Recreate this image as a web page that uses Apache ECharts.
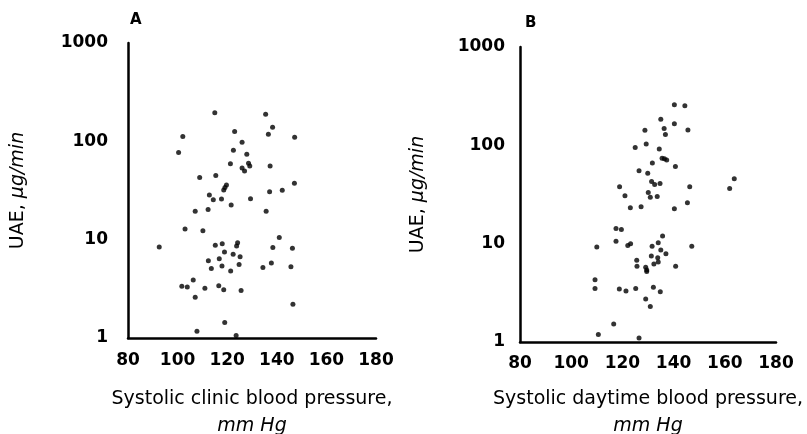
<html>
	<head>
		<meta http-equiv="content-type" content="text/html; charset=utf-8">
		<script src="https://cdn.jsdelivr.net/npm/echarts@6/dist/echarts.min.js"></script>
		<style>
			html, body { margin: 0; padding: 0; background: #ffffff; }
			#chart { width: 807px; height: 434px; }
		</style>
		<title>UAE vs systolic blood pressure</title>
	</head>
	<body>
		<div id="chart"></div>
		<script type="text/javascript">
///////////////////////////////////////////////////////////////////////////////
// data

// panel A: systolic clinic blood pressure (mm Hg) and UAE (ug/min)
var clinic_sbp = [
	115, 135.5, 138.3, 102.1, 123, 136.6, 147.2, 100.4, 126, 122.5,
	127.9, 121.3, 128.6, 129.1, 126, 127, 137.3, 108.9, 115.4, 119.7,
	119.1, 118.6, 147.1, 137.1, 142.2, 112.8, 114.4, 117.7, 129.4, 121.6,
	107.1, 112.3, 135.7, 103, 110.2, 92.6, 115.2, 118, 124.2, 123.8,
	141, 138.4, 146.3, 118.9, 122.4, 125.2, 116.8, 112.4, 117.9, 124.8,
	113.6, 121.4, 134.4, 137.8, 145.7, 106.3, 101.7, 103.9, 111, 116.6,
	118.6, 125.6, 107.1, 146.5, 119, 107.8, 123.6
];
var clinic_uae = [
	195, 188, 139, 112, 126, 118, 110, 77, 98, 81,
	74, 59, 60, 56, 53.5, 50, 56, 43, 45, 36,
	34, 32, 37.4, 30.7, 31.8, 28.4, 25.5, 25.9, 26, 22.5,
	19.5, 20.3, 19.4, 12.8, 12.3, 8.4, 8.8, 9.1, 9.3, 8.6,
	10.5, 8.3, 8.2, 7.5, 7.1, 6.7, 6.4, 6.1, 5.4, 5.6,
	5.1, 4.8, 5.2, 5.8, 5.3, 3.9, 3.35, 3.3, 3.2, 3.4,
	3.1, 3.05, 2.6, 2.2, 1.44, 1.17, 1.06
];

// panel B: systolic daytime blood pressure (mm Hg) and UAE (ug/min)
var daytime_sbp = [
	140.3, 144.4, 135, 140.3, 136.3, 136.8, 128.8, 145.6, 125, 129.3,
	134.4, 135.5, 136.4, 137.3, 131.7, 140.7, 126.5, 129.9, 131.4, 132.6,
	134.7, 118.9, 146.3, 121, 130.1, 130.9, 133.6, 145.4, 123.1, 127.3,
	140.3, 163.7, 161.9, 117.5, 119.6, 135.7, 110, 117.5, 122.1, 123.2,
	134, 131.6, 147.1, 135, 137, 131.3, 133.8, 134, 125.6, 125.7,
	132.3, 129.1, 129.5, 129.5, 140.8, 109.3, 109.3, 118.8, 121.4, 125.2,
	132.1, 134.8, 129.1, 130.9, 116.6, 110.6, 126.5
];
var daytime_uae = [
	259, 253, 184, 166, 148, 129, 142, 143, 95, 103,
	92, 74, 73, 71, 66, 61, 55, 52, 43, 40,
	41, 38, 38, 30.7, 33.2, 29.7, 30.2, 26, 23.2, 23.7,
	22.6, 45.7, 36.3, 14.3, 13.9, 12, 9.25, 10.6, 9.6, 10,
	10.2, 9.4, 9.4, 8.6, 7.9, 7.5, 7.2, 6.5, 6.8, 5.9,
	6.2, 5.75, 5.4, 5.2, 5.9, 4.3, 3.5, 3.46, 3.3, 3.5,
	3.6, 3.25, 2.74, 2.3, 1.52, 1.19, 1.1
];

var x_ticks = [80, 100, 120, 140, 160, 180];
var y_ticks = [1, 10, 100, 1000];
var panel_letters = ["A", "B"];
var x_names = ["Systolic clinic blood pressure,", "Systolic daytime blood pressure,"];
var x_unit = "mm Hg";
var y_name = "UAE, ";
var y_unit = "µg/min";

///////////////////////////////////////////////////////////////////////////////
// helpers

function pairs(xs, ys) {
	var d = [];
	for (var i = 0; i < xs.length; i++) d.push([xs[i], ys[i]]);
	return d;
}

var font = "DejaVu Sans";

function x_axis(idx, margin, gap) {
	return {
		gridIndex: idx,
		type: 'value',
		min: x_ticks[0],
		max: x_ticks[x_ticks.length - 1],
		interval: x_ticks[1] - x_ticks[0],
		splitLine: { show: false },
		axisTick: { show: false },
		axisLine: { lineStyle: { color: '#000', width: 2.5 } },
		axisLabel: { color: '#000', fontFamily: font, fontWeight: 'bold', fontSize: 17, margin: margin },
		name: '{a|' + x_names[idx] + '}\n{b|' + x_unit + '}',
		nameLocation: 'middle',
		nameGap: gap,
		nameTextStyle: {
			rich: {
				a: { color: '#000', fontFamily: font, fontSize: 19, lineHeight: 27 },
				b: { color: '#000', fontFamily: font, fontSize: 19, fontStyle: 'italic', lineHeight: 27 }
			}
		}
	};
}

function y_axis(idx, gap, margin) {
	return {
		gridIndex: idx,
		type: 'log',
		logBase: 10,
		min: y_ticks[0],
		max: y_ticks[y_ticks.length - 1],
		splitLine: { show: false },
		axisTick: { show: false },
		axisLine: { show: true, lineStyle: { color: '#000', width: 2.5 } },
		axisLabel: {
			color: '#000', fontFamily: font, fontWeight: 'bold', fontSize: 17, margin: margin,
			formatter: function (v) { return String(Math.round(v)); }
		},
		name: '{a|' + y_name + '}{b|' + y_unit + '}',
		nameLocation: 'middle',
		nameRotate: 90,
		nameGap: gap,
		nameTextStyle: {
			rich: {
				a: { color: '#000', fontFamily: font, fontSize: 19 },
				b: { color: '#000', fontFamily: font, fontSize: 19, fontStyle: 'italic' }
			}
		}
	};
}

function dots(idx, xs, ys) {
	return {
		type: 'scatter',
		xAxisIndex: idx,
		yAxisIndex: idx,
		symbol: 'circle',
		symbolSize: 5,
		itemStyle: { color: '#000' },
		data: pairs(xs, ys)
	};
}

///////////////////////////////////////////////////////////////////////////////
// chart

var chart = echarts.init(document.getElementById('chart'), null, { renderer: 'canvas' });

var option = {
	backgroundColor: '#fff',
	animation: false,
	title: [
		{ text: panel_letters[0], left: 125, top: 8, textStyle: { fontFamily: font, fontWeight: 'bold', fontSize: 15, color: '#000' } },
		{ text: panel_letters[1], left: 520, top: 11, textStyle: { fontFamily: font, fontWeight: 'bold', fontSize: 15, color: '#000' } }
	],
	grid: [
		{ left: 128, top: 43, width: 248, height: 295, outerBoundsMode: 'none' },
		{ left: 520, top: 47, width: 256, height: 295, outerBoundsMode: 'none' }
	],
	xAxis: [x_axis(0, 14, 48), x_axis(1, 13, 44)],
	yAxis: [y_axis(0, 100, 20), y_axis(1, 92, 15)],
	series: [
		dots(0, clinic_sbp, clinic_uae),
		dots(1, daytime_sbp, daytime_uae)
	]
};

chart.setOption(option);
		</script>
	</body>
</html>
